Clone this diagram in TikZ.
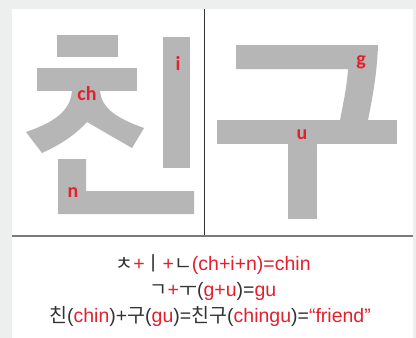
\documentclass[tikz,border=0pt]{standalone}
\usepackage{fontspec}
\setmainfont{Liberation Sans}
\newfontfamily\kor{Noto Sans CJK KR}
\newfontfamily\lab{Carlito}
\definecolor{bgc}{HTML}{EDEEEE}
\definecolor{glyph}{HTML}{B6B6B6}
\definecolor{redc}{HTML}{E3202C}
\definecolor{dark}{HTML}{333333}
\newcommand{\rd}[1]{\textcolor{redc}{#1}}
\newcommand{\ko}[1]{{\kor #1}}
\tikzset{
  stroke/.style={fill=glyph, draw=none},
  lbl/.style={text=redc, font=\lab\bfseries\fontsize{20}{20}\selectfont, inner sep=0pt},
  txt/.style={text=dark, font=\fontsize{19.5}{19.5}\selectfont, inner sep=0pt, anchor=base}
}
\begin{document}
\begin{tikzpicture}[x=1pt,y=-1pt]
\useasboundingbox (0,0) rectangle (416,338);
\fill[bgc] (0,0) rectangle (416,338);
\fill[white] (12,9) rectangle (413,338);
% left panel: 친
\fill[stroke] (57,35) rectangle (118,57);
\fill[stroke] (37,68) rectangle (137,91);
\fill[stroke] (72,90) .. controls (71,112) and (52,123) .. (26,132) -- (42,153)
  .. controls (60,145) and (75,135) .. (87,122) -- (132,148) -- (144,128)
  .. controls (116,118) and (101,108) .. (100,90) -- cycle;
\fill[stroke] (163,37) rectangle (190,168);
\fill[stroke] (58,159) -- (86,159) -- (86,191) -- (194,191) -- (194,214) -- (58,214) -- cycle;
\node[lbl] (ch) at (87,94) {ch};
\node[lbl] (i) at (178,63) {i};
\node[lbl] (n) at (73,193) {n};
% right panel: 구
\fill[stroke] (236,45) -- (378,45) .. controls (377,75) and (372,100) .. (368,120)
  -- (340,120) .. controls (344,100) and (347,85) .. (348,69) -- (236,69) -- cycle;
\fill[stroke] (217,120) rectangle (397,144);
\fill[stroke] (288,143) rectangle (317,219);
\node[lbl] (g) at (361,62) {g};
\node[lbl] (u) at (302,135) {u};
% dividers
\coordinate (vt) at (204,9);
\coordinate (vb) at (204,236);
\coordinate (hl) at (12,236);
\coordinate (hr) at (413,236);
\draw[color=dark, line width=0.8pt] (vt) -- (vb);
\draw[color=black!52, line width=1.6pt] (hl) -- (hr);
% text
\node[txt] (l1) at (213,270) {\ko{ㅊ}\rd{+}\ko{ㅣ}\rd{+}\ko{ㄴ}\rd{(ch+i+n)=chin}};
\node[txt] (l2) at (213,296) {\ko{ㄱ}\rd{+}\ko{ㅜ}(\rd{g+u})=\rd{gu}};
\node[txt] (l3) at (210,322) {\ko{친}(\rd{chin})+\ko{구}(\rd{gu})=\ko{친구}(\rd{chingu})=\rd{“friend”}};
\end{tikzpicture}
\end{document}
